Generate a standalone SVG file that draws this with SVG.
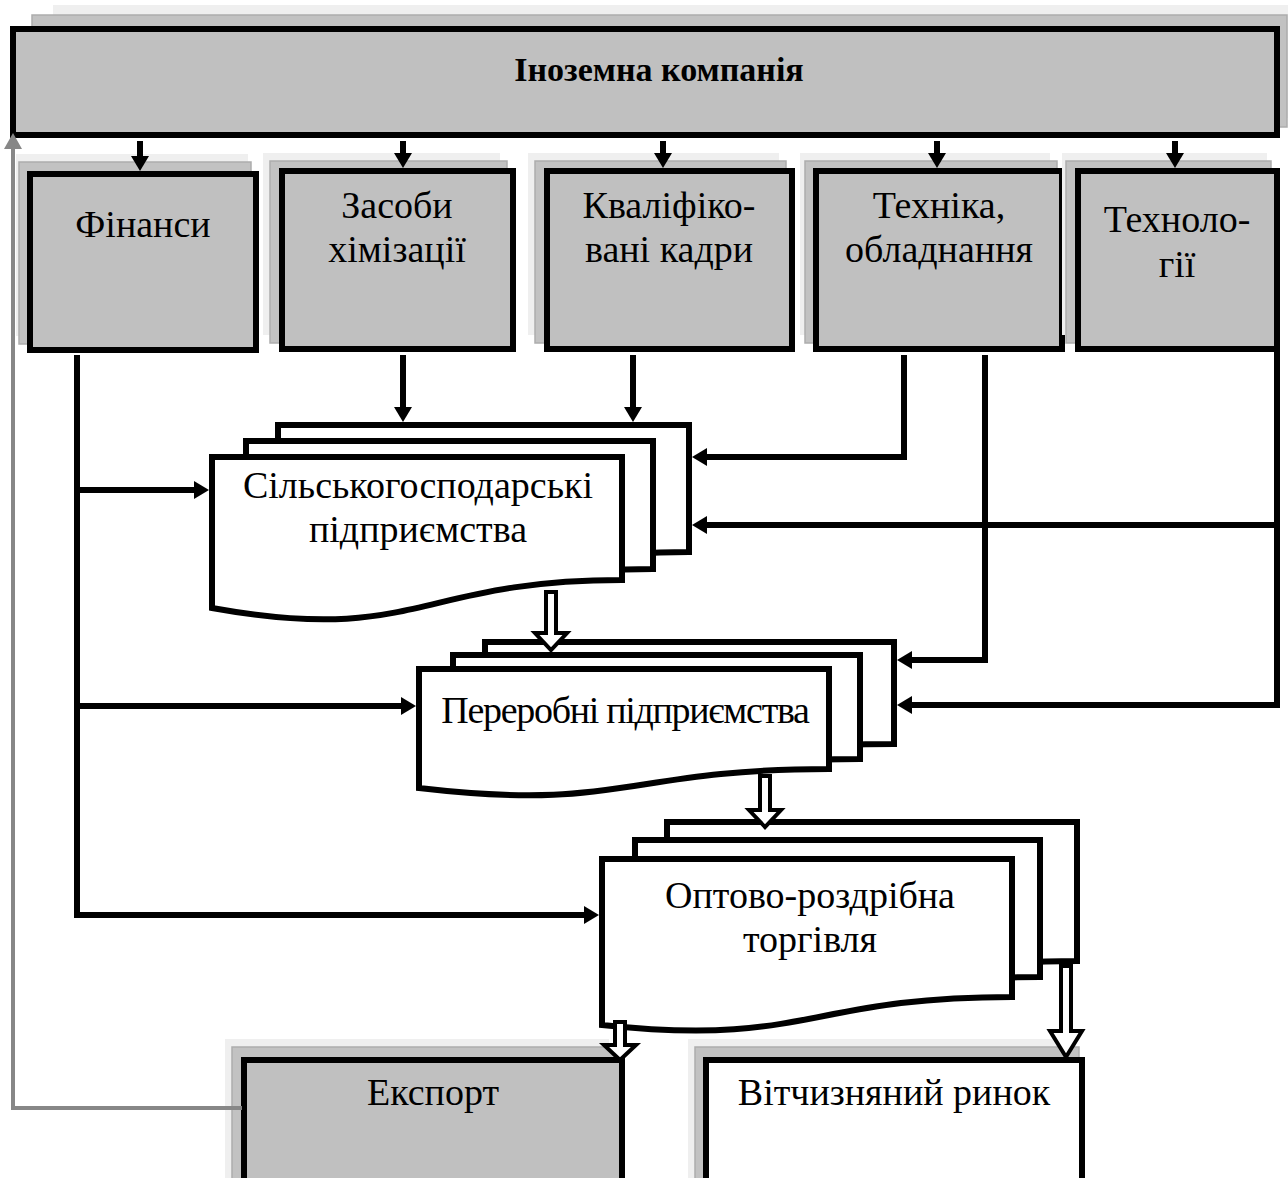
<svg xmlns="http://www.w3.org/2000/svg" width="1288" height="1178" viewBox="0 0 1288 1178">
  <style>
    .box { fill: #c0c0c0; stroke: #000; stroke-width: 6; }
    .wbox { fill: #fff; stroke: #000; stroke-width: 6; }
    .doc { fill: #fff; stroke: #000; stroke-width: 6; stroke-linejoin: miter; }
    .sh1 { fill: #efefef; }
    .sh2 { fill: #c2c2c2; stroke: #adadad; stroke-width: 1.5; }
    .lbl { font-family: "Liberation Serif", "Times New Roman", serif; font-size: 38px; fill: #000; text-anchor: middle; }
    .tight { letter-spacing: -1.3px; }
    .title { font-family: "Liberation Serif", "Times New Roman", serif; font-size: 34px; font-weight: bold; fill: #000; text-anchor: middle; }
    .ln { fill: none; stroke: #000; stroke-width: 6; stroke-linejoin: miter; }
    .gln { fill: none; stroke: #878787; stroke-width: 4; }
    .hollow { fill: #fff; stroke: #000; stroke-width: 4; stroke-linejoin: miter; }
  </style>
  <defs>
    <marker id="ah" viewBox="0 0 15 18" markerUnits="userSpaceOnUse" markerWidth="15" markerHeight="18" refX="1" refY="9" orient="auto">
      <path d="M0,0 L15,9 L0,18 Z" fill="#000"/>
    </marker>
    <marker id="ahg" viewBox="0 0 16 18" markerUnits="userSpaceOnUse" markerWidth="16" markerHeight="18" refX="1" refY="9" orient="auto">
      <path d="M0,0 L16,9 L0,18 Z" fill="#878787"/>
    </marker>
  </defs>

  <!-- Top: foreign company -->
  <g id="company">
    <rect class="sh1" x="53" y="5" width="1235" height="113"/>
    <rect class="sh2" x="32" y="15" width="1255" height="112"/>
    <rect class="box" x="13" y="29" width="1264" height="106"/>
    <text class="title" x="659" y="81">Іноземна компанія</text>
  </g>

  <!-- Resource boxes -->
  <g id="finance">
    <rect class="sh1" x="16" y="154" width="232" height="182"/>
    <rect class="sh2" x="19" y="162" width="232" height="182"/>
    <rect class="box" x="30" y="174" width="226" height="176"/>
    <text class="lbl" x="143" y="237">Фінанси</text>
  </g>
  <g id="chemicals">
    <rect class="sh1" x="263" y="153" width="237" height="182"/>
    <rect class="sh2" x="270" y="161" width="237" height="182"/>
    <rect class="box" x="282" y="171" width="231" height="178"/>
    <text class="lbl" x="397" y="218">Засоби</text>
    <text class="lbl" x="397" y="262">хімізації</text>
  </g>
  <g id="staff">
    <rect class="sh1" x="528" y="153" width="251" height="182"/>
    <rect class="sh2" x="535" y="161" width="251" height="182"/>
    <rect class="box" x="547" y="171" width="245" height="178"/>
    <text class="lbl" x="669" y="218">Кваліфіко-</text>
    <text class="lbl" x="669" y="262">вані кадри</text>
  </g>
  <g id="machinery">
    <rect class="sh1" x="800" y="153" width="250" height="182"/>
    <rect class="sh2" x="805" y="161" width="252" height="182"/>
    <rect class="box" x="816" y="171" width="246" height="178"/>
    <text class="lbl" x="939" y="218">Техніка,</text>
    <text class="lbl" x="939" y="262">обладнання</text>
  </g>
  <g id="technology">
    <rect class="sh1" x="1062" y="153" width="205" height="182"/>
    <rect class="sh2" x="1066" y="161" width="205" height="182"/>
    <rect class="box" x="1078" y="171" width="199" height="178"/>
    <text class="lbl" x="1177" y="232">Техноло-</text>
    <text class="lbl" x="1177" y="277">гії</text>
  </g>

  <!-- Agricultural enterprises (stacked documents) -->
  <g id="agri">
    <path class="doc" d="M278,425 H689 V552 C483,552 483,614 278,580 Z"/>
    <path class="doc" d="M246,441 H653 V569 C450,569 450,631 246,597 Z"/>
    <path class="doc" d="M212,457 H622 V580 C417,580 417,645 212,608 Z"/>
    <text class="lbl" x="418" y="498">Сільськогосподарські</text>
    <text class="lbl" x="418" y="542">підприємства</text>
  </g>

  <!-- Processing enterprises -->
  <g id="processing">
    <path class="doc" d="M485,642 H894 V744 C690,744 690,785 485,762 Z"/>
    <path class="doc" d="M453,655 H860 V759 C656,759 656,800 453,777 Z"/>
    <path class="doc" d="M419,669 H829 V769 C624,769 624,812 419,788 Z"/>
    <text class="lbl tight" x="625" y="723">Переробні підприємства</text>
  </g>

  <!-- Wholesale and retail trade -->
  <g id="trade">
    <path class="doc" d="M667,822 H1077 V961 C872,961 872,1009 667,988 Z"/>
    <path class="doc" d="M635,840 H1040 V977 C838,977 838,1025 635,1004 Z"/>
    <path class="doc" d="M602,859 H1012 V997 C807,997 807,1047 602,1025 Z"/>
    <text class="lbl" x="810" y="908">Оптово-роздрібна</text>
    <text class="lbl" x="810" y="952">торгівля</text>
  </g>

  <!-- Outlets -->
  <g id="export">
    <rect class="sh1" x="225" y="1039" width="384" height="160"/>
    <rect class="sh2" x="232" y="1047" width="384" height="160"/>
    <rect class="box" x="244" y="1060" width="378" height="140"/>
    <text class="lbl" x="433" y="1105">Експорт</text>
  </g>
  <g id="domestic">
    <rect class="sh1" x="688" y="1039" width="384" height="160"/>
    <rect class="sh2" x="695" y="1047" width="384" height="160"/>
    <rect class="wbox" x="706" y="1060" width="376" height="140"/>
    <text class="lbl" x="894" y="1105">Вітчизняний ринок</text>
  </g>

  <!-- Connectors -->
  <g id="connectors">
    <!-- company to resources -->
    <path class="ln" d="M140,141 V157" marker-end="url(#ah)"/>
    <path class="ln" d="M403,141 V154" marker-end="url(#ah)"/>
    <path class="ln" d="M663,141 V154" marker-end="url(#ah)"/>
    <path class="ln" d="M937,141 V154" marker-end="url(#ah)"/>
    <path class="ln" d="M1175,141 V154" marker-end="url(#ah)"/>

    <!-- chemicals and staff to agriculture -->
    <path class="ln" d="M403,355 V408" marker-end="url(#ah)"/>
    <path class="ln" d="M633,355 V408" marker-end="url(#ah)"/>

    <!-- machinery -->
    <path class="ln" d="M904,355 V457 H706" marker-end="url(#ah)"/>
    <path class="ln" d="M985,355 V660 H911" marker-end="url(#ah)"/>

    <!-- technology -->
    <path class="ln" d="M1277,349 V705 H911" marker-end="url(#ah)"/>
    <path class="ln" d="M1277,525 H706" marker-end="url(#ah)"/>

    <!-- finance -->
    <path class="ln" d="M77,355 V915 H585" marker-end="url(#ah)"/>
    <path class="ln" d="M77,490 H195" marker-end="url(#ah)"/>
    <path class="ln" d="M77,706 H402" marker-end="url(#ah)"/>

    <!-- export feedback -->
    <path class="gln" d="M242,1108 H13 V148" marker-end="url(#ahg)"/>

    <!-- product flows -->
    <polygon class="hollow" points="546,592 556,592 556,633 567,633 551,650 535,633 546,633"/>
    <polygon class="hollow" points="760,776 770,776 770,810 781,810 765,827 749,810 760,810"/>
    <polygon class="hollow" points="615,1022 625,1022 625,1045 636,1045 620,1060 604,1045 615,1045"/>
    <polygon class="hollow" points="1061,966 1071,966 1071,1031 1082,1031 1066,1057 1050,1031 1061,1031"/>
  </g>
</svg>
